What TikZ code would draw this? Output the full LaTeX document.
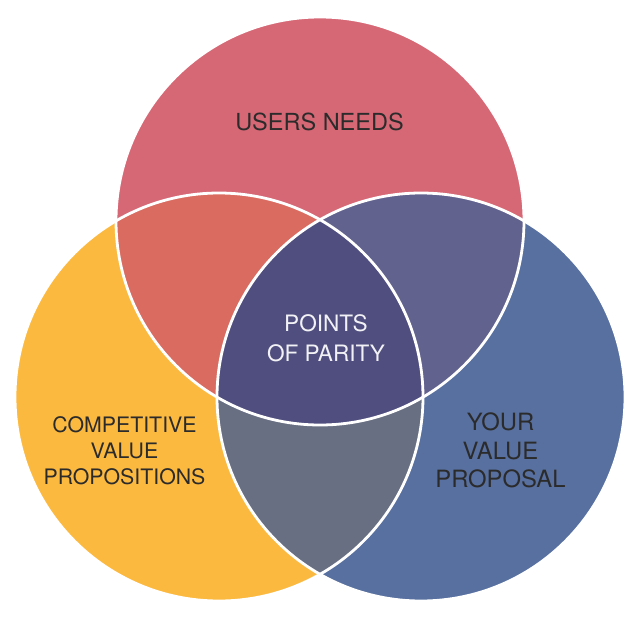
\documentclass[tikz,border=0pt]{standalone}
\usepackage{fontspec}
\setmainfont{TeX Gyre Heros}
\definecolor{cTop}{HTML}{D66875}
\definecolor{cLeft}{HTML}{FCB940}
\definecolor{cRight}{HTML}{5870A0}
\definecolor{cTL}{HTML}{DA6B61}
\definecolor{cTR}{HTML}{62628F}
\definecolor{cLR}{HTML}{696F83}
\definecolor{cMid}{HTML}{4F4E7E}
\definecolor{txtDark}{HTML}{2B2B2B}
\definecolor{txtLight}{HTML}{F2F2F6}
\begin{document}
\begin{tikzpicture}[x=1pt,y=-1pt,
  ring/.style={draw=white,line width=2.8pt},
  lbl/.style={inner sep=0pt,anchor=north,align=center,text=txtDark}]
\useasboundingbox[fill=white] (0,0) rectangle (640,616);
\coordinate (cT) at (320,221);
\coordinate (cL) at (219,397);
\coordinate (cR) at (421,397);
\def\rad{204pt}
% base circles
\fill[cTop] (cT) circle[radius=\rad];
\fill[cLeft] (cL) circle[radius=\rad];
\fill[cRight] (cR) circle[radius=\rad];
% pairwise overlaps
\begin{scope}
  \clip (cT) circle[radius=\rad];
  \fill[cTL] (cL) circle[radius=\rad];
  \fill[cTR] (cR) circle[radius=\rad];
\end{scope}
\begin{scope}
  \clip (cL) circle[radius=\rad];
  \fill[cLR] (cR) circle[radius=\rad];
\end{scope}
% triple overlap
\begin{scope}
  \clip (cT) circle[radius=\rad];
  \clip (cL) circle[radius=\rad];
  \fill[cMid] (cR) circle[radius=\rad];
\end{scope}
% white outlines
\draw[ring] (cT) circle[radius=\rad];
\draw[ring] (cL) circle[radius=\rad];
\draw[ring] (cR) circle[radius=\rad];
% labels
\node[lbl,font=\fontsize{23.5}{28}\selectfont] (users) at (319.5,112.3) {USERS NEEDS};
\node[lbl,text=txtLight,font=\fontsize{22.6}{30}\selectfont] (parity) at (326,314.3) {POINTS\\OF PARITY};
\node[lbl,font=\fontsize{21.3}{26}\selectfont] (comp) at (124.5,416.7) {COMPETITIVE\\VALUE\\PROPOSITIONS};
\node[lbl,font=\fontsize{23.8}{28.6}\selectfont] (yours) at (500.5,412.7) {YOUR\\VALUE\\PROPOSAL};
\end{tikzpicture}
\end{document}
